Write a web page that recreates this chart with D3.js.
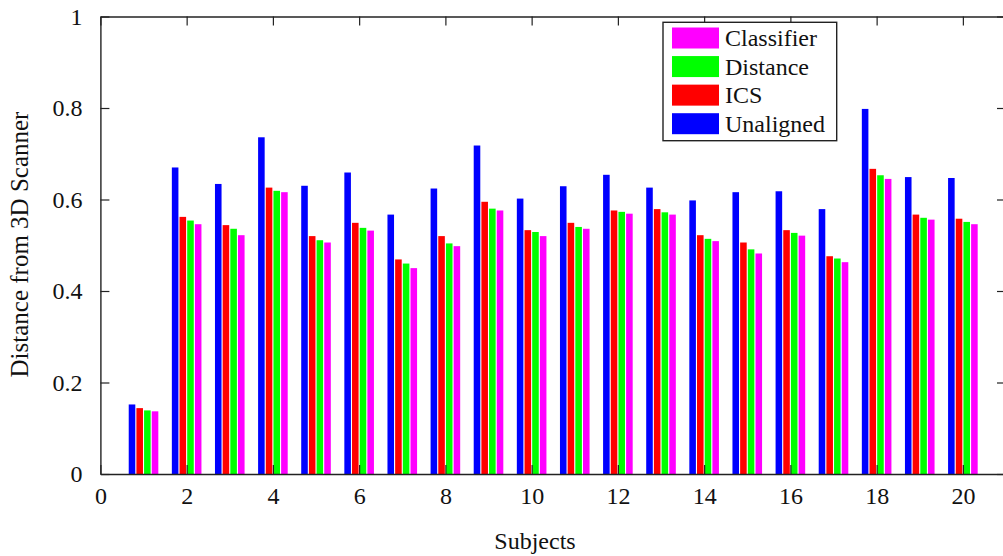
<!DOCTYPE html>
<html>
<head>
<meta charset="utf-8">
<script src="https://cdn.jsdelivr.net/npm/d3@7"></script>
<style>
  html, body { margin: 0; padding: 0; background: #fff; }
  svg { display: block; }
</style>
</head>
<body>
<svg id="chart" width="1003" height="556"></svg>
<script>
// ---- Data ----
const subjects = [1,2,3,4,5,6,7,8,9,10,11,12,13,14,15,16,17,18,19,20];
const seriesNames = ["Unaligned", "ICS", "Distance", "Classifier"];
const unaligned  = [0.152,0.670,0.634,0.736,0.630,0.659,0.567,0.624,0.718,0.602,0.629,0.654,0.626,0.598,0.616,0.618,0.579,0.798,0.649,0.647];
const ics        = [0.144,0.562,0.544,0.626,0.520,0.549,0.469,0.520,0.595,0.533,0.549,0.576,0.579,0.522,0.506,0.533,0.476,0.667,0.567,0.558];
const distance   = [0.139,0.554,0.536,0.619,0.511,0.538,0.460,0.504,0.580,0.529,0.540,0.573,0.572,0.514,0.491,0.527,0.471,0.653,0.560,0.551];
const classifier = [0.137,0.546,0.522,0.616,0.506,0.532,0.450,0.498,0.576,0.520,0.536,0.569,0.567,0.509,0.482,0.521,0.463,0.645,0.556,0.546];
const xTicks = [0,2,4,6,8,10,12,14,16,18,20];
const yTicks = [0,0.2,0.4,0.6,0.8,1];
const legendOrder = ["Classifier", "Distance", "ICS", "Unaligned"];
const colors = { Unaligned: "#0000ff", ICS: "#ff0000", Distance: "#00ff00", Classifier: "#ff00ff" };
const seriesData = { Unaligned: unaligned, ICS: ics, Distance: distance, Classifier: classifier };

// ---- Layout ----
const FONT = "'Liberation Serif', 'Times New Roman', serif";
const svg = d3.select("#chart");
const x = d3.scaleLinear().domain([0, 21]).range([100.4, 1006]);
const y = d3.scaleLinear().domain([0, 1]).range([474, 16.5]);
const groupWidth = 0.712; // in subject units
const sub = d3.scaleBand().domain(seriesNames).range([-groupWidth / 2, groupWidth / 2]);
const unitPx = x(1) - x(0);
const barW = sub.bandwidth() * unitPx - 1.1;

// ---- Bars ----
const rows = [];
subjects.forEach((s, i) => {
  seriesNames.forEach(name => rows.push({ s, name, v: seriesData[name][i] }));
});
svg.append("g").selectAll("rect").data(rows).enter().append("rect")
  .attr("x", d => x(d.s + sub(d.name)) + 0.55)
  .attr("y", d => y(d.v))
  .attr("width", barW)
  .attr("height", d => y(0) - y(d.v))
  .attr("fill", d => colors[d.name]);

// ---- Axes (box with inward ticks) ----
const axisColor = "#222";
const tickLen = 9;
const gAx = svg.append("g");

const axB = gAx.append("g").attr("transform", `translate(0,${y(0)})`)
  .call(d3.axisBottom(x).tickValues(xTicks).tickSize(-tickLen).tickPadding(13).tickSizeOuter(0).tickFormat(d3.format("d")));
const axT = gAx.append("g").attr("transform", `translate(0,${y(1)})`)
  .call(d3.axisTop(x).tickValues(xTicks).tickSize(-tickLen).tickSizeOuter(0).tickFormat(""));
const axL = gAx.append("g").attr("transform", `translate(${x(0)},0)`)
  .call(d3.axisLeft(y).tickValues(yTicks).tickSize(-tickLen).tickPadding(18).tickSizeOuter(0).tickFormat(d => d === 0 || d === 1 ? String(d) : d.toFixed(1)));
const axR = gAx.append("g").attr("transform", `translate(${x(21)},0)`)
  .call(d3.axisRight(y).tickValues(yTicks).tickSize(-tickLen).tickSizeOuter(0).tickFormat(""));

[axB, axT, axL, axR].forEach(g => {
  g.selectAll(".domain").attr("stroke", axisColor).attr("stroke-width", 1.4);
  g.selectAll(".tick line").attr("stroke", axisColor).attr("stroke-width", 1.2);
  g.selectAll(".tick text").style("font-size", "24px").style("font-family", FONT).attr("fill", "#111");
});

// ---- Axis titles ----
svg.append("text")
  .attr("x", 535).attr("y", 549)
  .attr("text-anchor", "middle")
  .style("font-size", "24px").style("font-family", FONT).attr("fill", "#111")
  .text("Subjects");

svg.append("text")
  .attr("transform", "translate(27.5,244.5) rotate(-90)")
  .attr("text-anchor", "middle")
  .style("font-size", "25px").style("font-family", FONT).attr("fill", "#111")
  .text("Distance from 3D Scanner");

// ---- Legend ----
const lg = svg.append("g");
lg.append("rect")
  .attr("x", 663).attr("y", 22.3)
  .attr("width", 173.7).attr("height", 118.4)
  .attr("fill", "#fff").attr("stroke", axisColor).attr("stroke-width", 1.4);
const ly = d3.scalePoint().domain(legendOrder).range([38, 123.7]);
legendOrder.forEach(name => {
  lg.append("rect")
    .attr("x", 672).attr("y", ly(name) - 10.5)
    .attr("width", 47).attr("height", 21)
    .attr("fill", colors[name]);
  lg.append("text")
    .attr("x", 725).attr("y", ly(name) + 8)
    .style("font-size", "24px").style("font-family", FONT).attr("fill", "#111")
    .text(name);
});
</script>
</body>
</html>
